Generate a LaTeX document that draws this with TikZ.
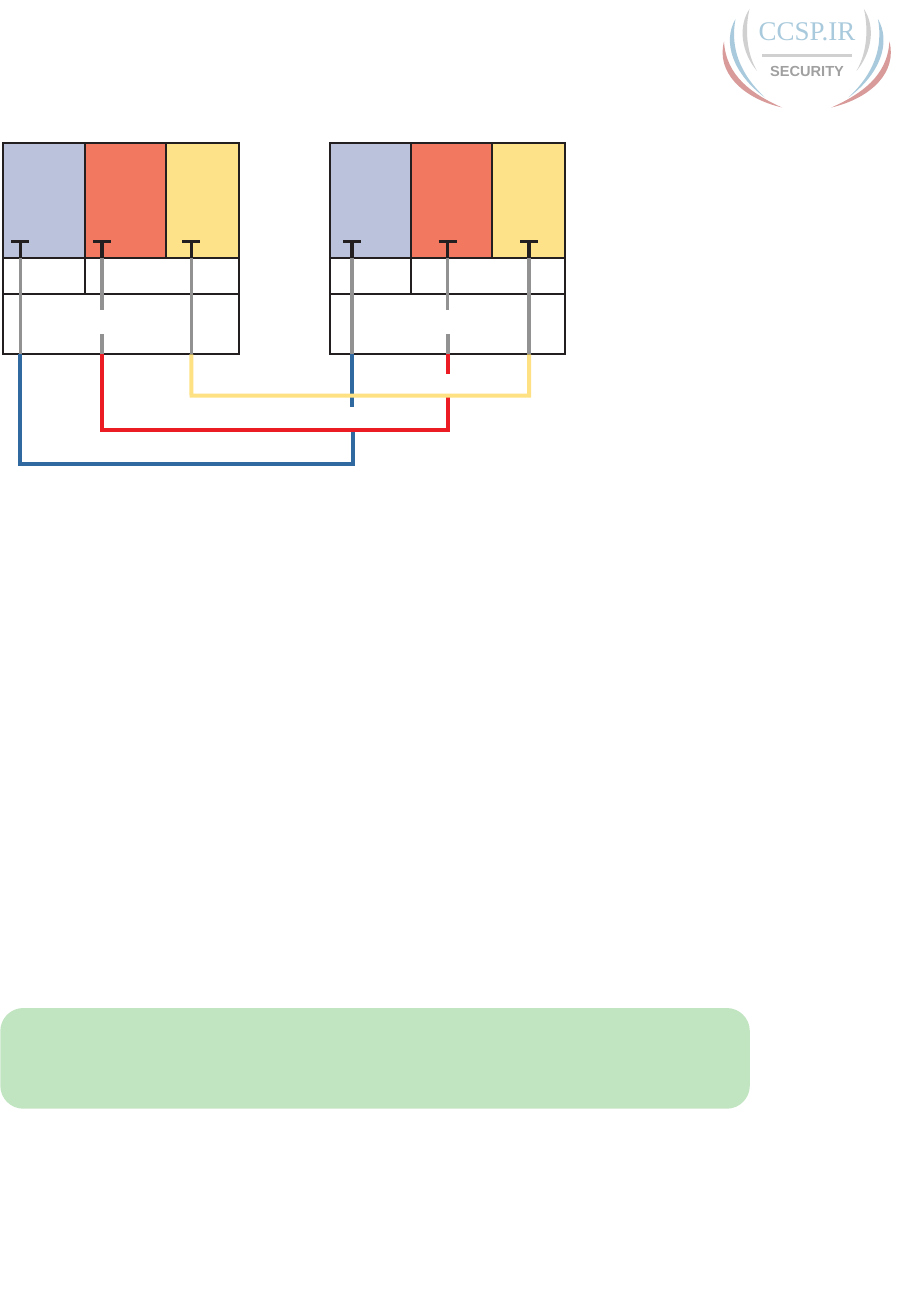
\documentclass[tikz,border=0pt]{standalone}
\usepackage{fontspec}
\setmainfont{Liberation Serif}
\newfontfamily\logosans{Liberation Sans}
\definecolor{cellblue}{HTML}{BAC3DB}
\definecolor{cellred}{HTML}{F27860}
\definecolor{cellyellow}{HTML}{FDE28A}
\definecolor{inkblack}{HTML}{231F20}
\definecolor{wiregray}{HTML}{929292}
\definecolor{wireblue}{HTML}{30699F}
\definecolor{wirered}{HTML}{EC1C24}
\definecolor{wireyellow}{HTML}{FDE183}
\definecolor{panelgreen}{HTML}{C1E4C1}
\definecolor{logoblue}{HTML}{A9CADC}
\definecolor{logored}{HTML}{D99A9A}
\definecolor{logogray}{HTML}{D0D0D0}
\definecolor{logotext}{HTML}{A0A0A0}
\tikzset{
  cell/.style={draw=inkblack,line width=2pt,anchor=north west,inner sep=0pt,outer sep=0pt},
  tee/.style={draw=inkblack,line width=3pt},
  stem/.style={draw=inkblack,line width=#1},
  graywire/.style={draw=wiregray,line width=#1},
  bluewire/.style={draw=wireblue,line width=4pt,miter limit=10},
  redwire/.style={draw=wirered,line width=4pt},
  yellowwire/.style={draw=wireyellow,line width=4pt},
  panel/.style={fill=panelgreen,rounded corners=23pt,anchor=north west,inner sep=0pt,outer sep=0pt,minimum width=749.5pt,minimum height=100.7pt}
}
\begin{document}
\begin{tikzpicture}[x=1pt,y=-1pt]
\useasboundingbox (0,0) rectangle (919,1314);
% left stack
\node[cell,fill=cellblue,minimum width=82pt,minimum height=115pt] (la) at (3.3,143.3) {};
\node[cell,fill=cellred,minimum width=80.4pt,minimum height=115pt] (lb) at (85.3,143.3) {};
\node[cell,fill=cellyellow,minimum width=73pt,minimum height=115pt] (lc) at (165.7,143.3) {};
\node[cell,minimum width=82pt,minimum height=35.7pt] (ld) at (3.3,258.3) {};
\node[cell,minimum width=153.4pt,minimum height=35.7pt] (le) at (85.3,258.3) {};
\node[cell,minimum width=235.4pt,minimum height=60.3pt] (lf) at (3.3,294) {};
% right stack
\node[cell,fill=cellblue,minimum width=81.3pt,minimum height=115pt] (ra) at (329.7,143.3) {};
\node[cell,fill=cellred,minimum width=81pt,minimum height=115pt] (rb) at (411,143.3) {};
\node[cell,fill=cellyellow,minimum width=73.3pt,minimum height=115pt] (rc) at (492,143.3) {};
\node[cell,minimum width=81.3pt,minimum height=35.7pt] (rd) at (329.7,258.3) {};
\node[cell,minimum width=154.3pt,minimum height=35.7pt] (re) at (411,258.3) {};
\node[cell,minimum width=235.6pt,minimum height=60.3pt] (rf) at (329.7,294) {};
% connector points
\coordinate (t1) at (20.3,241.3); \coordinate (s1) at (20.3,258.3); \coordinate (o1) at (20.3,354.3);
\coordinate (t2) at (102,241.3); \coordinate (s2) at (102,258.3); \coordinate (g2a) at (102,310); \coordinate (g2b) at (102,334); \coordinate (o2) at (102,354.3);
\coordinate (t3) at (191.3,241.3); \coordinate (s3) at (191.3,258.3); \coordinate (o3) at (191.3,354.3);
\coordinate (t4) at (352,241.3); \coordinate (s4) at (352,258.3); \coordinate (o4) at (352,354.3);
\coordinate (t5) at (447.7,241.3); \coordinate (s5) at (447.7,258.3); \coordinate (g5a) at (447.7,310); \coordinate (g5b) at (447.7,334); \coordinate (o5) at (447.7,354.3);
\coordinate (t6) at (529,241.3); \coordinate (s6) at (529,258.3); \coordinate (o6) at (529,354.3);
\coordinate (blueL) at (20.3,463.7); \coordinate (blueR) at (353.2,463.7); \coordinate (blueEnd) at (353.2,429);
\coordinate (redL) at (102,429.5); \coordinate (redR) at (448,429.5); \coordinate (redEnd) at (448,396);
\coordinate (yelL) at (191.5,395.7); \coordinate (yelR) at (529,395.7);
\coordinate (blueStub) at (352,406.7); \coordinate (redStub) at (447.7,373.7);
% tees
\foreach \t/\s/\w in {t1/s1/3pt,t2/s2/4pt,t3/s3/3pt,t4/s4/4pt,t5/s5/3pt,t6/s6/4pt}{
  \draw[tee] ([xshift=-9pt]\t) -- ([xshift=9pt]\t);
  \draw[stem=\w] (\t) -- (\s);
}
% colored wires
\draw[bluewire] (o4) -- (blueStub);
\draw[bluewire] (o1) -- (blueL) -- (blueR) -- (blueEnd);
\draw[redwire] (o2) -- (redL) -- (redR) -- (redEnd);
\draw[redwire] (o5) -- (redStub);
\draw[yellowwire] (o3) -- (yelL) -- (yelR) -- (o6);
% gray wires
\draw[graywire=3pt] (s1) -- (o1);
\draw[graywire=4pt] (s2) -- (g2a);
\draw[graywire=4pt] (g2b) -- (o2);
\draw[graywire=3pt] (s3) -- (o3);
\draw[graywire=4pt] (s4) -- (o4);
\draw[graywire=3pt] (s5) -- (g5a);
\draw[graywire=4pt] (g5b) -- (o5);
\draw[graywire=4pt] (s6) -- (o6);
% green panel
\node[panel] (pn) at (0.3,1008) {};
% logo
\foreach \sx/\ox in {1/0,-1/1613.4}{
  \begin{scope}[xshift=\ox pt,xscale=\sx]
    \fill[logogray] (749.5,9) .. controls (738,26) and (741,52) .. (757,71) .. controls (746,52) and (745,28) .. (749.5,9);
    \fill[logoblue] (735.5,19) .. controls (722,42) and (733,74) .. (765,97.5) .. controls (740,74) and (730,48) .. (735.5,19);
    \fill[logored] (724,41.5) .. controls (716,72) and (742,98) .. (782,107.5) .. controls (752,94) and (726,76) .. (724,41.5);
  \end{scope}
}
\node[font=\fontsize{27}{27}\selectfont,text=logoblue,inner sep=0pt] (lg1) at (807,32) {CCSP.IR};
\coordinate (barL) at (762,55.3); \coordinate (barR) at (852,55.3);
\draw[logogray,line width=3pt] (barL) -- (barR);
\node[font=\logosans\bfseries\fontsize{14.6}{14.6}\selectfont,text=logotext,inner sep=0pt] (lg2) at (807,71) {SECURITY};
\end{tikzpicture}
\end{document}
